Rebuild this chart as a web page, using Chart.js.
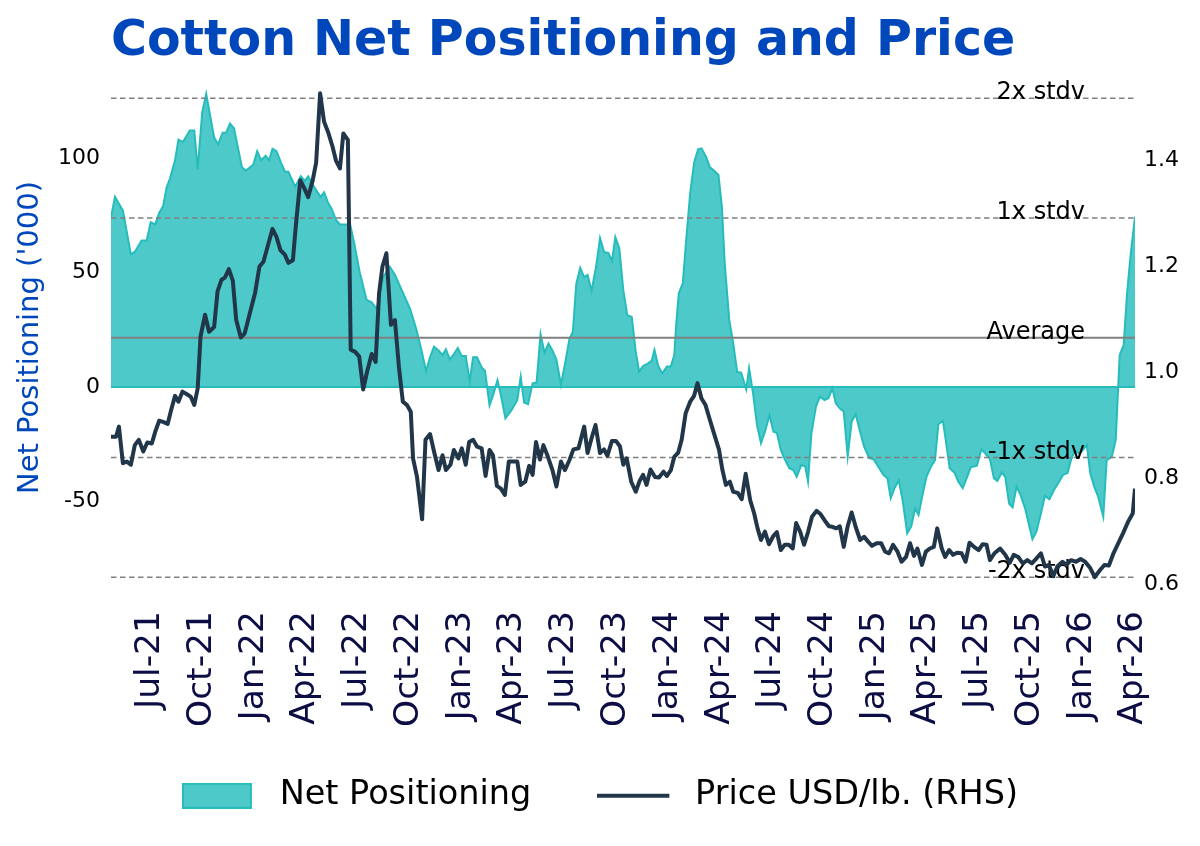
<!DOCTYPE html>
<html lang="en">
<head>
<meta charset="utf-8">
<title>Cotton Net Positioning and Price</title>
<script src="https://cdn.jsdelivr.net/npm/chart.js@4.4.1/dist/chart.umd.min.js"></script>
<style>
  html, body { margin: 0; padding: 0; background: #fff; }
  .chart-wrapper { width: 1200px; height: 846px; }
</style>
</head>
<body>
<div class="chart-wrapper"><canvas id="cotton-chart"></canvas></div>
<script>
// days counted from the first report, 2021-04-23
const startDate = Date.UTC(2021, 3, 23);

const netDays = [
  0, 7, 21, 35, 42, 54, 63, 70, 78, 85,
  92, 98, 104, 113, 119, 127, 139, 147, 153, 161,
  168, 182, 189, 197, 203, 210, 217, 231, 238, 251,
  258, 265, 273, 279, 285, 292, 300, 307, 313, 325,
  335, 342, 348, 357, 370, 376, 383, 389, 397, 404,
  422, 429, 439, 451, 460, 469, 480, 492, 501, 510,
  519, 528, 539, 548, 556, 563, 570, 578, 585, 591,
  598, 604, 612, 619, 626, 633, 639, 646, 654, 660,
  668, 675, 682, 688, 696, 707, 717, 723, 729, 736,
  744, 751, 758, 765, 772, 779, 786, 794, 801, 809,
  815, 821, 828, 835, 841, 848, 856, 863, 870, 878,
  884, 890, 897, 904, 911, 919, 926, 932, 939, 948,
  954, 959, 966, 973, 981, 988, 994, 998, 1002, 1009,
  1015, 1022, 1029, 1036, 1042, 1050, 1057, 1064, 1072, 1078,
  1083, 1091, 1098, 1105, 1112, 1121, 1126, 1133, 1140, 1147,
  1154, 1162, 1169, 1175, 1182, 1189, 1197, 1204, 1210, 1218,
  1225, 1230, 1236, 1244, 1251, 1259, 1266, 1273, 1279, 1286,
  1293, 1300, 1307, 1314, 1322, 1329, 1338, 1346, 1354, 1363,
  1370, 1376, 1383, 1390, 1397, 1405, 1412, 1419, 1425, 1432,
  1439, 1447, 1454, 1460, 1468, 1473, 1480, 1489, 1495, 1503,
  1510, 1517, 1528, 1536, 1543, 1551, 1558, 1564, 1572, 1578,
  1585, 1591, 1598, 1605, 1613, 1620, 1626, 1633, 1641, 1648,
  1656, 1664, 1672, 1680, 1688, 1694, 1701, 1709, 1716, 1722,
  1728, 1735, 1742, 1751, 1757, 1766, 1773, 1780, 1787, 1793,
  1799, 1807,
];

const netValues = [
  74, 83, 77, 58, 59, 64, 64, 72, 71, 76,
  79, 87, 91, 99, 108, 107, 112, 112, 95, 120,
  128, 109, 106, 111, 111, 115, 113, 96, 94.5, 97,
  103, 99, 101, 99, 104, 103, 98, 94, 94, 87.5,
  92, 90, 92, 88, 83, 85, 80.5, 78, 73, 71,
  71, 63, 50, 38, 37, 34, 48, 52.5, 49, 44,
  39, 34, 25, 16, 7, 13, 17.6, 16, 14, 16.5,
  12, 14, 17, 13.5, 13.5, 2.5, 13, 13, 8.6, 7,
  -8, -3, 3, -3.5, -13.7, -10, -5.7, 4.5, -6.8, -7.5,
  1.6, 2, 23, 15, 19, 16, 12, 1, 10, 21,
  24, 45, 52, 48, 49, 42, 52.5, 65, 59, 58.5,
  55, 65.4, 60.6, 42.4, 31.4, 30.6, 15.4, 6.7, 9.2, 10.3,
  11.4, 16.2, 8.9, 6, 9, 9, 14, 29.3, 40.9, 45.3,
  64.2, 84.6, 97.9, 103.8, 104.2, 100.6, 95.9, 94.5, 92.6, 78.7,
  54, 29.3, 19.1, 6.5, 6.3, -1, 8.2, -2.8, -16.6, -24.6,
  -19.5, -12.2, -19.5, -20, -27.5, -31.6, -35.5, -36.3, -39.2, -34.1,
  -34.6, -41.3, -20.2, -8.6, -4.2, -5.7, -4.9, -0.6, -7.1, -9.3,
  -10.7, -30.4, -15.1, -11.9, -19.5, -26.1, -31.1, -31.6, -34.8, -38.4,
  -39.8, -48.6, -44, -40.8, -49.5, -63.9, -61, -53, -55.9, -47.2,
  -39.2, -34.8, -32, -16.2, -14.8, -23.1, -35.5, -37.6, -41.3, -44.2,
  -39.8, -35.1, -34.4, -27.2, -29.1, -31.5, -39.8, -41, -37.3, -39.3,
  -51, -52.6, -43.5, -47.1, -53, -60.3, -66.5, -63.2, -55.2, -47.6,
  -49, -45, -41.8, -38.4, -37.6, -31.9, -27.8, -29.1, -27.2, -25.3,
  -37.6, -43.5, -47.9, -56.6, -31.9, -30.5, -23.1, 14, 18.3, 40.9,
  56.9, 74.4,
];

const priceDays = [
  0, 9, 14, 21, 28, 35, 42, 49, 57, 64,
  72, 78, 85, 92, 100, 106, 113, 119, 126, 134,
  141, 147, 153, 158, 166, 173, 182, 188, 195, 201,
  208, 215, 221, 229, 236, 245, 254, 262, 269, 278,
  285, 292, 299, 307, 313, 321, 326, 334, 341, 348,
  356, 362, 369, 376, 383, 391, 397, 404, 410, 418,
  423, 431, 438, 445, 452, 460, 467, 473, 479, 486,
  494, 501, 508, 515, 522, 529, 533, 540, 549, 555,
  563, 570, 578, 585, 591, 599, 605, 613, 619, 626,
  632, 639, 646, 654, 661, 668, 674, 681, 688, 695,
  702, 710, 717, 723, 731, 738, 744, 750, 757, 763,
  771, 779, 786, 794, 801, 809, 816, 825, 835, 841,
  848, 855, 863, 870, 876, 884, 891, 898, 904, 910,
  918, 926, 933, 939, 945, 952, 960, 967, 975, 981,
  988, 994, 1001, 1007, 1014, 1022, 1029, 1035, 1042, 1049,
  1057, 1065, 1073, 1079, 1085, 1092, 1098, 1106, 1113, 1120,
  1128, 1135, 1141, 1147, 1154, 1161, 1169, 1175, 1182, 1189,
  1196, 1203, 1209, 1216, 1223, 1230, 1237, 1245, 1252, 1260,
  1267, 1273, 1280, 1286, 1293, 1300, 1307, 1314, 1322, 1329,
  1336, 1343, 1351, 1359, 1366, 1373, 1380, 1388, 1395, 1403,
  1410, 1417, 1423, 1431, 1438, 1445, 1452, 1458, 1466, 1472,
  1479, 1486, 1493, 1501, 1508, 1515, 1523, 1531, 1538, 1545,
  1551, 1559, 1569, 1578, 1586, 1593, 1601, 1609, 1617, 1625,
  1632, 1641, 1648, 1655, 1663, 1670, 1679, 1686, 1694, 1703,
  1711, 1719, 1728, 1736, 1745, 1753, 1761, 1769, 1778, 1786,
  1795, 1803, 1807,
];

const priceValues = [
  0.878, 0.878, 0.897, 0.828, 0.831, 0.825, 0.862, 0.872, 0.85, 0.867,
  0.865, 0.887, 0.908, 0.906, 0.902, 0.928, 0.955, 0.944, 0.963, 0.958,
  0.953, 0.938, 0.969, 1.067, 1.108, 1.076, 1.085, 1.152, 1.174, 1.178,
  1.194, 1.172, 1.098, 1.065, 1.073, 1.111, 1.148, 1.199, 1.208, 1.243,
  1.27, 1.255, 1.23, 1.221, 1.206, 1.211, 1.274, 1.362, 1.347, 1.33,
  1.362, 1.395, 1.526, 1.472, 1.453, 1.425, 1.399, 1.384, 1.45, 1.438,
  1.042, 1.038, 1.029, 0.967, 1.001, 1.034, 1.019, 1.148, 1.199, 1.224,
  1.089, 1.098, 1.01, 0.944, 0.938, 0.925, 0.837, 0.802, 0.722, 0.872,
  0.883, 0.85, 0.815, 0.843, 0.815, 0.825, 0.853, 0.837, 0.856, 0.825,
  0.868, 0.872, 0.859, 0.856, 0.804, 0.853, 0.843, 0.785, 0.78, 0.768,
  0.831, 0.831, 0.831, 0.787, 0.793, 0.823, 0.806, 0.868, 0.835, 0.862,
  0.84, 0.815, 0.784, 0.831, 0.815, 0.834, 0.854, 0.856, 0.897, 0.847,
  0.875, 0.9, 0.847, 0.854, 0.842, 0.87, 0.87, 0.86, 0.825, 0.837,
  0.793, 0.774, 0.795, 0.806, 0.787, 0.816, 0.802, 0.801, 0.812, 0.804,
  0.815, 0.84, 0.848, 0.872, 0.922, 0.944, 0.955, 0.979, 0.95, 0.938,
  0.909, 0.881, 0.853, 0.815, 0.787, 0.793, 0.774, 0.772, 0.76, 0.808,
  0.758, 0.733, 0.705, 0.683, 0.699, 0.675, 0.691, 0.698, 0.664, 0.674,
  0.674, 0.667, 0.715, 0.699, 0.674, 0.698, 0.727, 0.738, 0.732, 0.719,
  0.709, 0.708, 0.705, 0.709, 0.67, 0.709, 0.735, 0.708, 0.683, 0.689,
  0.68, 0.672, 0.677, 0.677, 0.661, 0.658, 0.674, 0.661, 0.642, 0.651,
  0.677, 0.653, 0.667, 0.636, 0.661, 0.667, 0.67, 0.705, 0.667, 0.651,
  0.664, 0.655, 0.659, 0.658, 0.642, 0.678, 0.67, 0.664, 0.675, 0.674,
  0.645, 0.658, 0.667, 0.655, 0.64, 0.655, 0.651, 0.639, 0.645, 0.639,
  0.647, 0.658, 0.633, 0.636, 0.615, 0.633, 0.642, 0.636, 0.645, 0.642,
  0.647, 0.642, 0.63, 0.613, 0.626, 0.636, 0.635, 0.658, 0.678, 0.696,
  0.718, 0.733, 0.78,
];

const tickLabels = [
  "Jul-21", "Oct-21", "Jan-22", "Apr-22", "Jul-22", "Oct-22", "Jan-23",
  "Apr-23", "Jul-23", "Oct-23", "Jan-24", "Apr-24", "Jul-24", "Oct-24",
  "Jan-25", "Apr-25", "Jul-25", "Oct-25", "Jan-26", "Apr-26",
];

// average and standard deviation of net positioning, as marked on the chart
const bandMean = 21.5;
const bandStdv = 52.3;
const bandSteps = [2, 1, 0, -1, -2];
const bandLabels = ["2x stdv", "1x stdv", "Average", "-1x stdv", "-2x stdv"];

const chartTitle = "Cotton Net Positioning and Price";

const titleColor = "#0047bb";
const inkColor = "#0d0d45";
const tealFill = "#4dc9c9";
const tealEdge = "#26bcbc";
const priceColor = "#22364a";

const monthIndex = { Jan: 0, Apr: 3, Jul: 6, Oct: 9 };
const tickDays = tickLabels.map((label) => {
  const [mon, yy] = label.split("-");
  return (Date.UTC(2000 + Number(yy), monthIndex[mon], 1) - startDate) / 864e5;
});

// legend markers: 70px wide sample, drawn at the left of an 81px slot
const makeMarker = (draw) => {

  const cnv = document.createElement("canvas");
  cnv.width = 81;
  cnv.height = 26;
  draw(cnv.getContext("2d"));
  return cnv;

};

const areaMarker = makeMarker((c) => {

  c.fillStyle = tealFill;
  c.fillRect(1, 1, 68, 24);
  c.strokeStyle = tealEdge;
  c.lineWidth = 2;
  c.strokeRect(1, 1, 68, 24);

});

const lineMarker = makeMarker((c) => {

  c.strokeStyle = priceColor;
  c.lineWidth = 4;
  c.beginPath();
  c.moveTo(0, 13);
  c.lineTo(72, 13);
  c.stroke();

});

Chart.defaults.font.family = "'DejaVu Sans', sans-serif";

const titlePlugin = {
  id: "leftTitle",
  afterDraw (chart) {

    const { ctx, chartArea } = chart;
    ctx.save();
    ctx.font = "bold 49px 'DejaVu Sans'";
    ctx.fillStyle = titleColor;
    ctx.textAlign = "left";
    ctx.textBaseline = "alphabetic";
    ctx.fillText(chartTitle, chartArea.left, 55);
    ctx.restore();

  },
};

// the legend sits a little into the room kept for the tall date labels
const legendLift = {
  id: "legendLift",
  afterLayout (chart) {

    chart.legend.top -= 12;
    chart.legend.bottom -= 12;

  },
};

const bandsPlugin = {
  id: "stdvBands",
  afterDatasetDraw (chart, args) {

    if (args.index !== 0) return;
    const { ctx, chartArea } = chart;
    const y = chart.scales.y;
    const { left, right } = chartArea;

    ctx.save();
    // baseline of the shaded area
    const zero = y.getPixelForValue(0);
    ctx.strokeStyle = tealEdge;
    ctx.lineWidth = 2;
    ctx.beginPath();
    ctx.moveTo(left, zero);
    ctx.lineTo(right, zero);
    ctx.stroke();

    ctx.font = "24px 'DejaVu Sans'";
    ctx.fillStyle = "#000";
    ctx.textAlign = "right";
    ctx.textBaseline = "alphabetic";

    bandSteps.forEach((step, i) => {

      const py = y.getPixelForValue(bandMean + step * bandStdv);
      ctx.strokeStyle = "#808080";
      ctx.lineWidth = step === 0 ? 2 : 1.5;
      ctx.setLineDash(step === 0 ? [] : [5.5, 3.5]);
      ctx.beginPath();
      ctx.moveTo(left, py);
      ctx.lineTo(right, py);
      ctx.stroke();
      ctx.fillText(bandLabels[i], right - 50, py + 1);

    });
    ctx.restore();

  },
};

const datasets = [
  {
    label: "Net Positioning",
    data: netDays.map((d, i) => ({ x: d, y: netValues[i] })),
    yAxisID: "y",
    borderColor: tealEdge,
    backgroundColor: tealFill,
    borderWidth: 2,
    fill: "origin",
    pointRadius: 0,
    tension: 0,
    order: 2,
  },
  {
    label: "Price USD/lb. (RHS)",
    data: priceDays.map((d, i) => ({ x: d, y: priceValues[i] })),
    yAxisID: "y1",
    borderColor: priceColor,
    borderWidth: 4,
    borderJoinStyle: "round",
    fill: false,
    pointRadius: 0,
    tension: 0,
    order: 1,
  },
];

const options = {
  responsive: true,
  maintainAspectRatio: false,
  animation: false,
  devicePixelRatio: 1,
  layout: {
    padding: { top: 85, bottom: 11.5, left: 0, right: 0 },
  },
  plugins: {
    tooltip: { enabled: false },
    title: { display: false },
    legend: {
      position: "bottom",
      labels: {
        usePointStyle: true,
        pointStyleWidth: 81,
        boxHeight: 26,
        padding: 66,
        color: inkColor,
        font: { size: 33.5 },
        generateLabels: () => [
          {
            text: "Net Positioning",
            pointStyle: areaMarker,
            datasetIndex: 0,
            hidden: false,
          },
          {
            text: "Price USD/lb. (RHS)",
            pointStyle: lineMarker,
            datasetIndex: 1,
            hidden: false,
          },
        ],
      },
    },
  },
  scales: {
    x: {
      type: "linear",
      min: 0,
      max: 1807,
      border: { display: false },
      grid: { display: false, drawTicks: false },
      afterBuildTicks (scale) {

        scale.ticks = tickDays.map((value) => ({ value }));

      },
      afterFit (scale) {

        scale.height = 135;

      },
      ticks: {
        autoSkip: false,
        minRotation: 90,
        maxRotation: 90,
        padding: 21,
        color: inkColor,
        font: { size: 34.5 },
        callback (value, index) {

          return tickLabels[index];

        },
      },
    },
    y: {
      position: "left",
      min: -88.65,
      max: 131.88,
      border: { display: false },
      grid: { display: false, drawTicks: false },
      afterFit (scale) {

        scale.width = 111;

      },
      ticks: {
        stepSize: 50,
        includeBounds: false,
        padding: 11,
        color: "#000",
        font: { size: 22 },
      },
      title: {
        display: true,
        text: "Net Positioning ('000)",
        color: titleColor,
        font: { size: 29 },
        padding: { top: 13, bottom: 0 },
      },
    },
    y1: {
      position: "right",
      min: 0.5887,
      max: 1.5415,
      border: { display: false },
      grid: { display: false, drawTicks: false },
      afterFit (scale) {

        scale.width = 65;

      },
      ticks: {
        stepSize: 0.2,
        includeBounds: false,
        padding: 9,
        color: "#000",
        font: { size: 22 },
        callback (value) {

          return value.toFixed(1);

        },
      },
    },
  },
};

new Chart(document.getElementById("cotton-chart"), {
  type: "line",
  data: { datasets },
  options,
  plugins: [bandsPlugin, titlePlugin, legendLift],
});
</script>
</body>
</html>
